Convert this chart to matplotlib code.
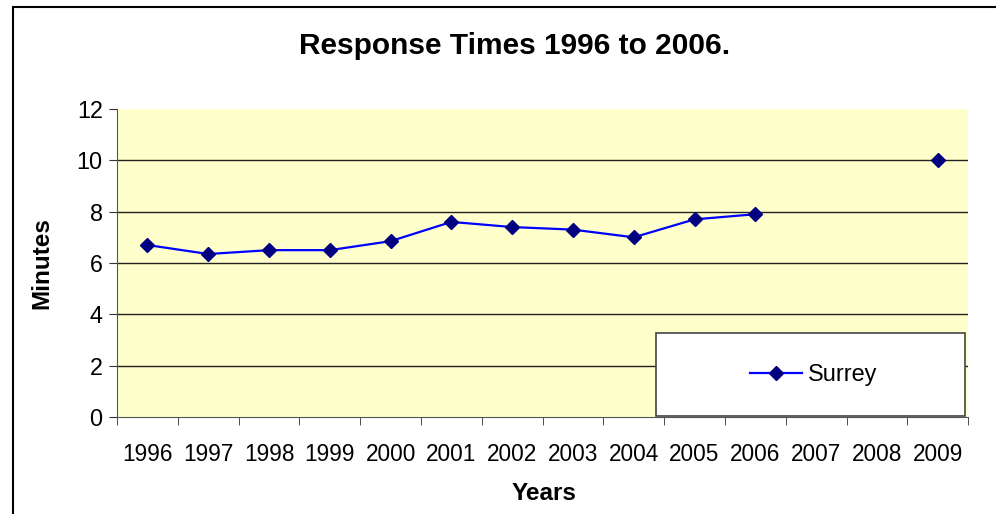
import numpy as np
import matplotlib.pyplot as plt
from matplotlib.patches import Rectangle

years = ['1996', '1997', '1998', '1999', '2000', '2001', '2002',
         '2003', '2004', '2005', '2006', '2007', '2008', '2009']
surrey = [6.7, 6.35, 6.5, 6.5, 6.85, 7.6, 7.4,
          7.3, 7.0, 7.7, 7.9, np.nan, np.nan, 10.0]

plt.rcParams['font.family'] = ['Liberation Sans', 'DejaVu Sans']

fig = plt.figure(figsize=(9.96, 5.14), dpi=100)
# chart border (runs off the right and bottom edges)
fig.patches.append(Rectangle((13 / 996, -0.05), 1.2, 1 - 7 / 514 + 0.05,
                             transform=fig.transFigure, fill=False,
                             edgecolor='black', linewidth=1.5))

ax = fig.add_axes([0.1175, 0.1887, 0.8545, 0.5993])
ax.set_facecolor('#FFFFCC')

x = np.arange(len(years))
ax.plot(x, surrey, color='#0000FF', linewidth=1.6, marker='D',
        markersize=7, markerfacecolor='#000080', markeredgecolor='#000080',
        label='Surrey', zorder=4)

ax.set_xlim(-0.5, len(years) - 0.5)
ax.set_ylim(0, 12)
ax.set_yticks(range(0, 13, 2))
for v in range(2, 12, 2):
    ax.axhline(v, color='#222222', linewidth=1.0, zorder=1)

ax.set_xticks(x)
ax.set_xticklabels(years)
ax.set_xticks(np.arange(len(years) + 1) - 0.5, minor=True)
ax.tick_params(axis='x', which='major', length=0, pad=19, labelsize=16.3)
ax.tick_params(axis='x', which='minor', length=5.5, direction='out', color='#333333')
ax.tick_params(axis='y', length=5.8, direction='out', labelsize=16.8, pad=4.5, color='#333333')

for side in ['top', 'right']:
    ax.spines[side].set_visible(False)
for side in ['left', 'bottom']:
    ax.spines[side].set_color('#555555')

ax.set_xlabel('Years', fontsize=17.5, fontweight='bold', va='baseline')
ax.set_ylabel('Minutes', fontsize=17.5, fontweight='bold')
ax.xaxis.set_label_coords(0.502, -0.269)
ax.yaxis.set_label_coords(-0.0752, 0.5)
fig.text(0.517, 1 - 54 / 514, 'Response Times 1996 to 2006.', ha='center', va='baseline',
         fontsize=21.5, fontweight='bold')

# legend box
ax.add_patch(Rectangle((0.633, 0.004), 0.3635, 0.269, transform=ax.transAxes,
                       facecolor='white', edgecolor='#444444', linewidth=1.2,
                       zorder=5))
leg = ax.legend(loc='center', bbox_to_anchor=(0.8185, 0.138), frameon=False,
                fontsize=16.9, handlelength=2.2, handletextpad=0.25)
leg.set_zorder(6)

fig.savefig('out.png', dpi=100)
